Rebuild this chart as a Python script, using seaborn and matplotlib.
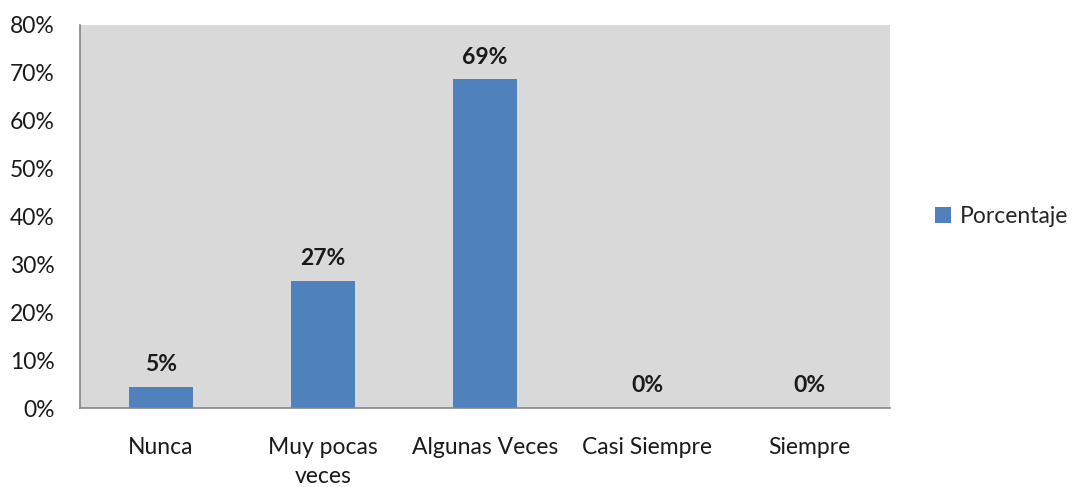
import matplotlib
matplotlib.use("Agg")
import matplotlib.pyplot as plt
import seaborn as sns
from matplotlib.ticker import PercentFormatter

categorias = ["Nunca", "Muy pocas\nveces", "Algunas Veces", "Casi Siempre", "Siempre"]
porcentaje = [0.045, 0.266, 0.686, 0.0, 0.0]
etiquetas = ["5%", "27%", "69%", "0%", "0%"]
yticks = [0, 0.1, 0.2, 0.3, 0.4, 0.5, 0.6, 0.7, 0.8]

sns.set_style("white")
plt.rcParams['font.family'] = ['Lato', 'DejaVu Sans']

fig = plt.figure(figsize=(10.75, 4.87), dpi=100)
ax = fig.add_axes([0.0744, 0.162, 0.7536, 0.787])
ax.set_facecolor("#d9d9d9")

sns.barplot(x=categorias, y=porcentaje, color="#4f81bd", width=0.4,
            saturation=1, linewidth=0, label="Porcentaje", ax=ax)

# etiquetas en negrita sobre cada barra
for i, (v, t) in enumerate(zip(porcentaje, etiquetas)):
    ax.annotate(t, (i, v), xytext=(0, 8.5), textcoords="offset points",
                ha="center", va="bottom", fontsize=16.5, fontweight="bold",
                color="#1a1a1a")

ax.set_ylim(0, 0.8)
ax.set_xlim(-0.5, 4.5)
ax.set_yticks(yticks)
ax.yaxis.set_major_formatter(PercentFormatter(1.0, decimals=0))
ax.tick_params(axis="both", length=0, labelsize=16.5, colors="#1a1a1a")
ax.tick_params(axis="y", pad=18)
ax.tick_params(axis="x", pad=21)
for lbl in ax.get_xticklabels():
    lbl.set_linespacing(1.45)

for s in ["top", "right"]:
    ax.spines[s].set_visible(False)
for s in ["left", "bottom"]:
    ax.spines[s].set_color("#868686")
    ax.spines[s].set_linewidth(1.2)

ax.set_xlabel("")
ax.set_ylabel("")

ax.legend(loc="center left", bbox_to_anchor=(1.055, 0.5), frameon=False,
          fontsize=16.5, handlelength=0.7, handleheight=0.7, handletextpad=0.4,
          borderaxespad=0, borderpad=0)

fig.savefig("out.png", dpi=100, facecolor="white")
